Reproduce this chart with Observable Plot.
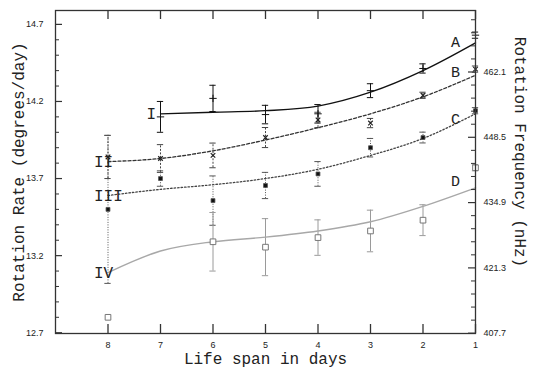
<!DOCTYPE html>
<html><head><meta charset="utf-8">
<script src="https://cdn.jsdelivr.net/npm/d3@7"></script>
<script src="https://cdn.jsdelivr.net/npm/@observablehq/plot@0.6"></script>
<style>body{margin:0;background:#fff}</style>
</head><body><div id="chart"></div>
<script>
// Life span (days) positions
const days = [8, 7, 6, 5, 4, 3, 2, 1];
const xTicks = [8, 7, 6, 5, 4, 3, 2, 1];
const yTicks = [12.7, 13.2, 13.7, 14.2, 14.7];
const nhzTicks = [407.7, 421.3, 434.9, 448.5, 462.1];
const NHZ_PER_DEG = 32.11;

// Fitted curves (degrees/day)
const curveADays = [7, 6, 5, 4, 3, 2, 1];
const curveA = [14.12, 14.13, 14.14, 14.17, 14.26, 14.40, 14.58];
const curveB = [13.81, 13.83, 13.88, 13.95, 14.03, 14.12, 14.23, 14.37];
const curveC = [13.59, 13.63, 13.66, 13.70, 13.76, 13.85, 13.96, 14.12];
const curveD = [13.09, 13.23, 13.29, 13.32, 13.36, 13.42, 13.52, 13.64];

// Measured points with errors
const ptsADays = [7, 6, 5, 4, 3, 2, 1];
const ptsA = [14.10, 14.22, 14.115, 14.12, 14.27, 14.414, 14.63];
const errA = [0.10, 0.085, 0.06, 0.06, 0.045, 0.03, 0.02];
const ptsBDays = [8, 7, 6, 5, 4, 3, 2, 1];
const ptsB = [13.84, 13.83, 13.85, 13.966, 14.08, 14.06, 14.24, 14.41];
const errB = [0.14, 0.09, 0.08, 0.065, 0.05, 0.03, 0.02, 0.02];
const ptsCDays = [8, 7, 6, 5, 4, 3, 2, 1];
const ptsC = [13.50, 13.70, 13.557, 13.655, 13.73, 13.90, 13.966, 14.14];
const errC = [0.48, 0.05, 0.16, 0.085, 0.08, 0.06, 0.035, 0.02];
const ptsDDays = [8, 6, 5, 4, 3, 2, 1];
const ptsD = [12.80, 13.29, 13.255, 13.317, 13.36, 13.43, 13.77];
const errD = [0.0, 0.19, 0.185, 0.115, 0.135, 0.10, 0.02];

const seriesNames = ["A", "B", "C", "D"];
const romanNames = ["I", "II", "III", "IV"];

const W = 533, H = 372, mL = 55, mR = 58, mT = 10, mB = 39;
const plotW = W - mL - mR, plotH = H - mT - mB;
const mono = "'Liberation Mono', 'DejaVu Sans Mono', monospace";
const sans = "'Liberation Sans', Arial, sans-serif";

const rows = (xs, ys) => xs.map((x, i) => ({x, y: ys[i]}));
const prow = (xs, ys, es) => xs.map((x, i) => ({x, y: ys[i], e: es[i]}));

const lines = [
  {data: rows(curveADays, curveA), stroke: "#111", dash: null, w: 1.3},
  {data: rows(days, curveB), stroke: "#333", dash: "3,2", w: 1.3},
  {data: rows(days, curveC), stroke: "#444", dash: "1.5,2", w: 1.3},
  {data: rows(days, curveD), stroke: "#a8a8a8", dash: null, w: 1.4}
];
const pts = [
  {data: prow(ptsADays, ptsA, errA), stroke: "#111", dash: null},
  {data: prow(ptsBDays, ptsB, errB), stroke: "#444", dash: "2,1.5"},
  {data: prow(ptsCDays, ptsC, errC), stroke: "#555", dash: "1,1.5"},
  {data: prow(ptsDDays, ptsD, errD), stroke: "#9a9a9a", dash: null}
];

const yMinor = d3.range(127, 148, 1).map(v => v / 10).filter(v => !yTicks.some(t => Math.abs(t - v) < 1e-6));
const nhzMinor = d3.range(0, 26).map(k => 407.7 + k * 2.72).filter((v, k) => k % 5 !== 0);

const marks = [];
// error bars and caps
pts.forEach((s, i) => {
  const withErr = s.data.filter(d => d.e > 0);
  marks.push(Plot.ruleX(withErr, {x: "x", y1: d => d.y - d.e, y2: d => d.y + d.e, stroke: s.stroke, strokeWidth: 1, strokeDasharray: s.dash}));
  marks.push(Plot.ruleY(withErr, {y: d => d.y + d.e, x1: d => d.x - 0.06, x2: d => d.x + 0.06, stroke: s.stroke, strokeWidth: 1}));
  marks.push(Plot.ruleY(withErr, {y: d => d.y - d.e, x1: d => d.x - 0.06, x2: d => d.x + 0.06, stroke: s.stroke, strokeWidth: 1}));
});
// curves
lines.forEach(l => marks.push(Plot.line(l.data, {x: "x", y: "y", curve: "monotone-x", stroke: l.stroke, strokeWidth: l.w, strokeDasharray: l.dash})));
// markers
marks.push(Plot.dot(pts[0].data, {x: "x", y: "y", symbol: "plus", r: 2.5, stroke: "#111", strokeWidth: 1}));
marks.push(Plot.dot(pts[1].data, {x: "x", y: "y", symbol: "times", r: 2.2, stroke: "#222", strokeWidth: 1.2}));
marks.push(Plot.dot(pts[2].data, {x: "x", y: "y", symbol: "square", r: 2.2, fill: "#111", stroke: "#555", strokeWidth: 0.8}));
marks.push(Plot.dot(pts[3].data, {x: "x", y: "y", symbol: "square", r: 3.2, fill: "white", stroke: "#777", strokeWidth: 1}));
// series letters at curve ends, roman numerals at curve starts
lines.forEach((l, i) => {
  const last = l.data[l.data.length - 1];
  marks.push(Plot.text([last], {x: "x", y: "y", text: () => seriesNames[i], dx: -20, dy: [-1, -3, 5, -7][i], fontSize: 15, fontFamily: mono, fill: "#222"}));
  const first = l.data[0];
  marks.push(Plot.text([first], {x: "x", y: "y", text: () => romanNames[i], dx: -14, textAnchor: "start", fontSize: 16, fontFamily: mono, fill: "#222"}));
});
// frame and ticks
marks.push(Plot.frame({stroke: "#333", strokeWidth: 1.3}));
marks.push(Plot.ruleX(xTicks, {x: d => d, insetTop: plotH - 9, stroke: "#333", strokeWidth: 1.3}));
marks.push(Plot.ruleX(xTicks, {x: d => d, insetBottom: plotH - 9, stroke: "#333", strokeWidth: 1.3}));
marks.push(Plot.ruleY(yTicks, {y: d => d, insetRight: plotW - 7, stroke: "#333", strokeWidth: 1.2}));
marks.push(Plot.ruleY(yMinor, {y: d => d, insetRight: plotW - 4, stroke: "#333", strokeWidth: 1}));
marks.push(Plot.ruleY(nhzTicks, {y: d => d / NHZ_PER_DEG, insetLeft: plotW - 7, stroke: "#333", strokeWidth: 1.2}));
marks.push(Plot.ruleY(nhzMinor, {y: d => d / NHZ_PER_DEG, insetLeft: plotW - 4, stroke: "#333", strokeWidth: 1}));
// tick labels
marks.push(Plot.text(xTicks, {x: d => d, frameAnchor: "bottom", dy: 12, lineAnchor: "middle", textAnchor: "middle", text: d => String(d), fontSize: 9, fontFamily: sans, fill: "#222"}));
marks.push(Plot.text(yTicks, {y: d => d, frameAnchor: "left", dx: -12, textAnchor: "end", lineAnchor: "middle", text: d => d.toFixed(1), fontSize: 9, fontFamily: sans, fill: "#222"}));
marks.push(Plot.text(nhzTicks, {y: d => d / NHZ_PER_DEG, frameAnchor: "right", dx: 8, textAnchor: "start", lineAnchor: "middle", text: d => d.toFixed(1), fontSize: 9, fontFamily: sans, fill: "#222"}));
// axis titles
marks.push(Plot.text(["Rotation Rate (degrees/day)"], {frameAnchor: "left", dx: -37, rotate: -90, textAnchor: "middle", lineAnchor: "middle", text: d => d, fontSize: 16, fontFamily: mono, fill: "#222"}));
marks.push(Plot.text(["Rotation Frequency (nHz)"], {frameAnchor: "right", dx: 45, dy: -20, rotate: 90, textAnchor: "middle", lineAnchor: "middle", text: d => d, fontSize: 16, fontFamily: mono, fill: "#222"}));
marks.push(Plot.text(["Life span in days"], {frameAnchor: "bottom", dy: 25, textAnchor: "middle", lineAnchor: "middle", text: d => d, fontSize: 16, fontFamily: mono, fill: "#222"}));

const chart = Plot.plot({
  width: W, height: H,
  marginLeft: mL, marginRight: mR, marginTop: mT, marginBottom: mB,
  x: {domain: [9, 1], axis: null},
  y: {domain: [12.695, 14.79], axis: null},
  style: {background: "white", overflow: "visible"},
  marks
});
document.getElementById("chart").appendChild(chart);
</script>
</body></html>
